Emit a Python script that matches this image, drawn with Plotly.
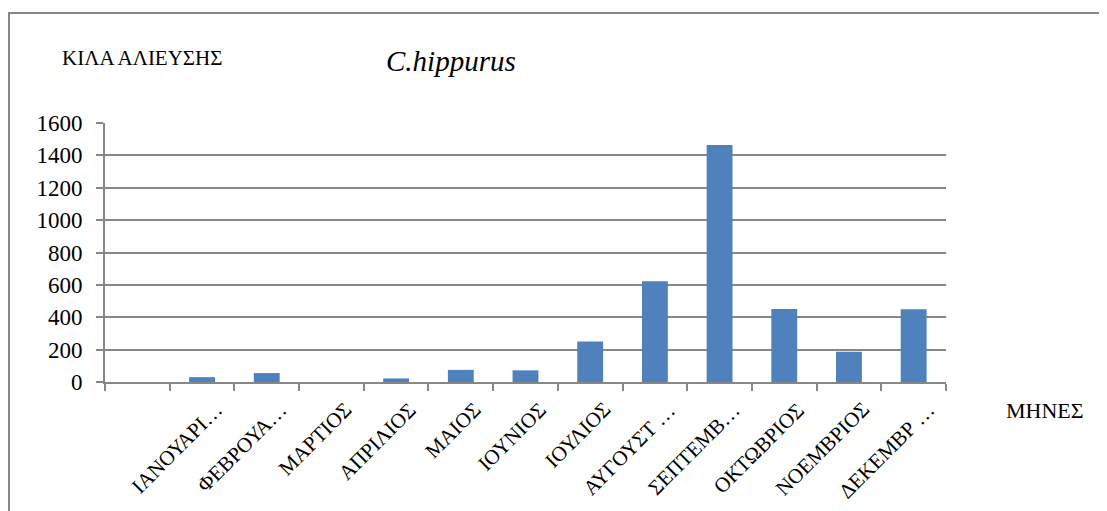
import plotly.graph_objects as go

months = [" ", "ΙΑΝΟΥΑΡΙ…", "ΦΕΒΡΟΥΑ…", "ΜΑΡΤΙΟΣ", "ΑΠΡΙΛΙΟΣ", "ΜΑΙΟΣ", "ΙΟΥΝΙΟΣ",
          "ΙΟΥΛΙΟΣ", "ΑΥΓΟΥΣΤ …", "ΣΕΠΤΕΜΒ…", "ΟΚΤΩΒΡΙΟΣ", "ΝΟΕΜΒΡΙΟΣ", "ΔΕΚΕΜΒΡ …"]
kilos = [None, 30, 55, 0, 22, 75, 72, 250, 622, 1464, 451, 187, 449]
y_ticks = [0, 200, 400, 600, 800, 1000, 1200, 1400, 1600]

OFF = 8  # page body margin offset
W, H = 1107 - OFF, 511 - OFF
L, R, T, B = 105 - OFF, 946 - OFF, 123 - OFF, 382 - OFF
FONT = "Liberation Serif"
GRAY = "#878787"


def px_x(x):
    return (x - OFF - L) / (R - L)


def px_y(y):
    return (B - (y - OFF)) / (B - T)


fig = go.Figure(go.Bar(
    x=months, y=kilos, width=0.4,
    marker=dict(color="#4F81BD", line=dict(width=0)),
))

annotations = [
    dict(text="ΚΙΛΑ ΑΛΙΕΥΣΗΣ", xref="paper", yref="paper", x=px_x(142), y=px_y(58),
         showarrow=False, xanchor="center", yanchor="middle",
         font=dict(family=FONT, size=21, color="black")),
    dict(text="<i>C.hippurus</i>", xref="paper", yref="paper", x=px_x(451), y=px_y(61),
         showarrow=False, xanchor="center", yanchor="middle",
         font=dict(family=FONT, size=29, color="black")),
    dict(text="ΜΗΝΕΣ", xref="paper", yref="paper", x=px_x(1045), y=px_y(410),
         showarrow=False, xanchor="center", yanchor="middle",
         font=dict(family=FONT, size=22, color="black")),
]
for m in months:
    if m.strip():
        annotations.append(dict(
            text=m, xref="x", yref="paper", x=m, y=0, showarrow=False,
            xanchor="right", yanchor="top", textangle=-45, xshift=28, yshift=-13,
            font=dict(family=FONT, size=21, color="black"),
        ))

fig.update_layout(
    width=W, height=H,
    margin=dict(l=L, r=W - R, t=T, b=H - B, pad=0),
    paper_bgcolor="white", plot_bgcolor="white",
    showlegend=False,
    font=dict(family=FONT, color="black"),
    xaxis=dict(
        type="category", categoryorder="array", categoryarray=months,
        tickson="boundaries", ticks="outside", ticklen=7, tickwidth=2, tickcolor=GRAY,
        showline=True, linecolor=GRAY, linewidth=2, showgrid=False,
        showticklabels=False, range=[-0.5, 12.5],
    ),
    yaxis=dict(
        range=[0, 1600], tickvals=y_ticks, ticks="outside", ticklen=7, tickwidth=2,
        tickcolor=GRAY, showline=True, linecolor=GRAY, linewidth=2,
        showgrid=True, gridcolor=GRAY, gridwidth=2, zeroline=False,
        tickfont=dict(family=FONT, size=23, color="black"), ticklabelstandoff=9,
    ),
    shapes=[dict(
        type="rect", xref="paper", yref="paper",
        x0=px_x(9), x1=px_x(1130), y0=px_y(540), y1=px_y(13),
        line=dict(color=GRAY, width=2), fillcolor="rgba(0,0,0,0)", layer="below",
    )],
    annotations=annotations,
)

fig.write_html("out.html")
